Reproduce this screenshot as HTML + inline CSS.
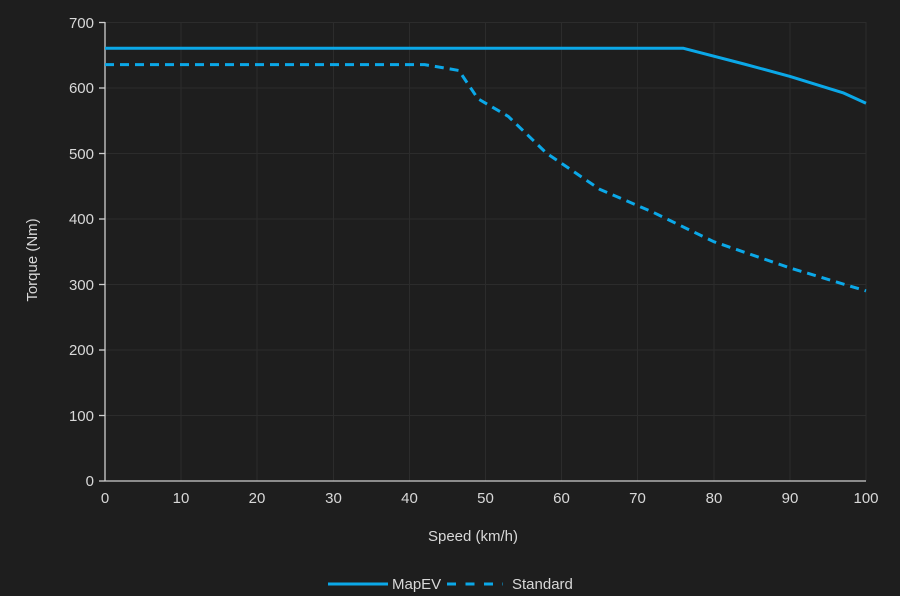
<!DOCTYPE html>
<html><head><style>html,body{margin:0;background:#1e1e1e;}svg{display:block}text{font-family:"Liberation Sans",sans-serif;fill:#d8d8d8;font-size:15px}</style></head>
<body>
<svg width="900" height="596" viewBox="0 0 900 596">
<rect width="900" height="596" fill="#1e1e1e"/>
<g stroke="#2c2c2c" stroke-width="1">
<line x1="105" x2="866" y1="22.5" y2="22.5"/><line x1="105" x2="866" y1="88" y2="88"/><line x1="105" x2="866" y1="153.5" y2="153.5"/><line x1="105" x2="866" y1="219" y2="219"/><line x1="105" x2="866" y1="284.5" y2="284.5"/><line x1="105" x2="866" y1="350" y2="350"/><line x1="105" x2="866" y1="415.5" y2="415.5"/>
<line y1="22" y2="481" x1="181" x2="181"/><line y1="22" y2="481" x1="257" x2="257"/><line y1="22" y2="481" x1="333.5" x2="333.5"/><line y1="22" y2="481" x1="409.5" x2="409.5"/><line y1="22" y2="481" x1="485.5" x2="485.5"/><line y1="22" y2="481" x1="561.5" x2="561.5"/><line y1="22" y2="481" x1="637.5" x2="637.5"/><line y1="22" y2="481" x1="714" x2="714"/><line y1="22" y2="481" x1="790" x2="790"/><line y1="22" y2="481" x1="866" x2="866"/>
</g>
<g stroke="#cfcfcf" stroke-width="1.3">
<line x1="105" x2="105" y1="22" y2="481"/><line x1="105" x2="866" y1="481" y2="481"/>
<line x1="99" x2="105" y1="22.5" y2="22.5"/><line x1="99" x2="105" y1="88" y2="88"/><line x1="99" x2="105" y1="153.5" y2="153.5"/><line x1="99" x2="105" y1="219" y2="219"/><line x1="99" x2="105" y1="284.5" y2="284.5"/><line x1="99" x2="105" y1="350" y2="350"/><line x1="99" x2="105" y1="415.5" y2="415.5"/><line x1="99" x2="105" y1="481" y2="481"/>
</g>
<g text-anchor="end">
<text x="94" y="28">700</text><text x="94" y="93">600</text><text x="94" y="159">500</text><text x="94" y="224">400</text><text x="94" y="290">300</text><text x="94" y="355">200</text><text x="94" y="421">100</text><text x="94" y="486">0</text>
</g>
<g text-anchor="middle">
<text x="105" y="503">0</text><text x="181" y="503">10</text><text x="257" y="503">20</text><text x="333.5" y="503">30</text><text x="409.5" y="503">40</text><text x="485.5" y="503">50</text><text x="561.5" y="503">60</text><text x="637.5" y="503">70</text><text x="714" y="503">80</text><text x="790" y="503">90</text><text x="866" y="503">100</text>
<text x="473" y="541">Speed (km/h)</text>
<text transform="translate(37,260) rotate(-90)">Torque (Nm)</text>
</g>
<g fill="none" stroke="#0ba8e8" stroke-width="3" stroke-linejoin="round">
<polyline points="105,48.2 683,48.2 744,64 790,76.4 843,92.8 866,103.3"/>
<polyline stroke-dasharray="9,6" points="105,64.6 424.6,64.6 458.9,70.5 477.9,98.7 508.3,116.4 546.4,153.1 599.6,189.2 652.9,212.2 713.8,241.7 789.9,267.9 866,290.9"/>
<line x1="328" x2="388" y1="584" y2="584"/>
<line x1="447" x2="503" y1="584" y2="584" stroke-dasharray="9,9.5"/>
</g>
<text x="392" y="589" font-size="13">MapEV</text>
<text x="512" y="589" font-size="13">Standard</text>
</svg>
</body></html>
